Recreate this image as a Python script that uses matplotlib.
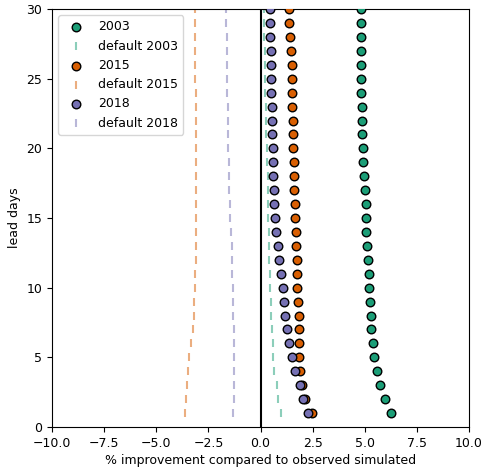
import numpy as np
import matplotlib
matplotlib.use("Agg")
import matplotlib.pyplot as plt

plt.rcParams["font.size"] = 9

# lead days 1..30
lead_days = np.arange(1, 31)

# % improvement per lead day
imp_2003 = [6.27, 5.95, 5.74, 5.58, 5.45, 5.39, 5.31, 5.28, 5.23, 5.20,
            5.18, 5.15, 5.12, 5.08, 5.05, 5.04, 4.99, 4.96, 4.93, 4.91,
            4.89, 4.88, 4.86, 4.84, 4.84, 4.83, 4.83, 4.81, 4.81, 4.81]
default_2003 = [0.99, 0.86, 0.78, 0.67, 0.62, 0.58, 0.54, 0.51, 0.48, 0.46,
                0.45, 0.43, 0.42, 0.40, 0.38, 0.37, 0.36, 0.34, 0.32, 0.30,
                0.28, 0.27, 0.26, 0.23, 0.22, 0.21, 0.20, 0.19, 0.18, 0.17]

imp_2015 = [2.46, 2.14, 1.98, 1.89, 1.86, 1.84, 1.84, 1.84, 1.82, 1.77,
            1.74, 1.73, 1.69, 1.68, 1.66, 1.64, 1.62, 1.60, 1.60, 1.57,
            1.56, 1.55, 1.53, 1.50, 1.50, 1.49, 1.47, 1.41, 1.39, 1.36]
default_2015 = [-3.61, -3.58, -3.53, -3.47, -3.41, -3.33, -3.26, -3.21, -3.17, -3.13,
                -3.12, -3.09, -3.09, -3.09, -3.09, -3.09, -3.09, -3.10, -3.10, -3.10,
                -3.10, -3.11, -3.11, -3.11, -3.12, -3.12, -3.12, -3.13, -3.13, -3.13]

imp_2018 = [2.30, 2.03, 1.90, 1.66, 1.53, 1.39, 1.29, 1.18, 1.12, 1.06,
            0.99, 0.90, 0.83, 0.73, 0.70, 0.67, 0.64, 0.61, 0.61, 0.58,
            0.54, 0.54, 0.54, 0.51, 0.51, 0.50, 0.48, 0.46, 0.46, 0.46]
default_2018 = [-1.33, -1.29, -1.29, -1.29, -1.29, -1.29, -1.29, -1.30, -1.31, -1.33,
                -1.35, -1.37, -1.39, -1.43, -1.45, -1.47, -1.49, -1.51, -1.52, -1.54,
                -1.55, -1.56, -1.58, -1.59, -1.60, -1.61, -1.62, -1.63, -1.64, -1.65]

years = ["2003", "2015", "2018"]
colors = ["#1b9e77", "#d95f02", "#7570b3"]
improvements = [imp_2003, imp_2015, imp_2018]
defaults = [default_2003, default_2015, default_2018]

fig = plt.figure(figsize=(4.82, 4.69), dpi=100)
ax = fig.add_axes([0.108, 0.0896, 0.865, 0.891])

for year, col, imp, dflt in zip(years, colors, improvements, defaults):
    ax.scatter(imp, lead_days, color=col, edgecolor="black", s=38,
               linewidths=1, label=year, zorder=3)
    ax.scatter(dflt, lead_days, color=col, marker="|", alpha=0.5, s=40,
               label="default " + year, zorder=2)

ax.axvline(0, color="black", linewidth=1.5, zorder=1)

ax.set_xlim(-10, 10)
ax.set_ylim(0, 30)
ax.set_xticks(np.arange(-10, 10.1, 2.5))
ax.set_yticks(np.arange(0, 31, 5))
ax.set_xlabel("% improvement compared to observed simulated", labelpad=3)
ax.set_ylabel("lead days")
ax.legend(loc="upper left", scatterpoints=1)

fig.savefig("out.png", dpi=100)
